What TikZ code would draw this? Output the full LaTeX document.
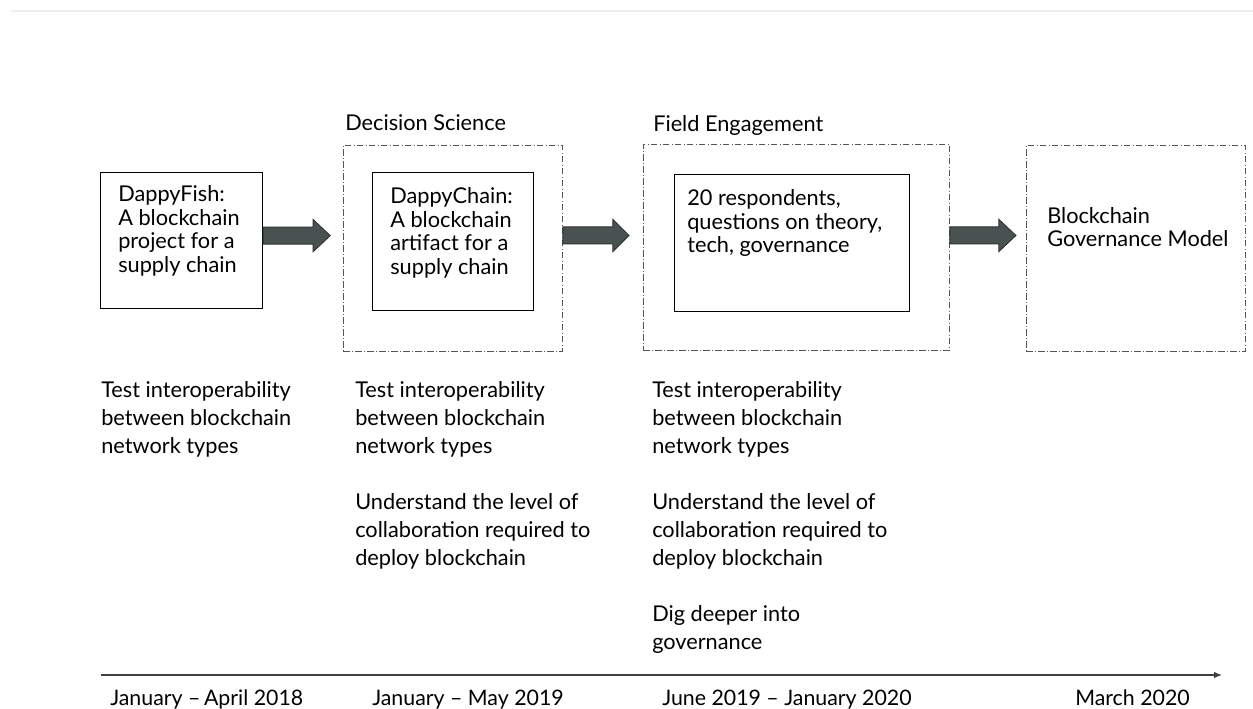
\documentclass[tikz,border=0pt]{standalone}
\usepackage{fontspec}
\setmainfont{Lato}
\usetikzlibrary{arrows.meta,calc}

\definecolor{shaftfill}{HTML}{4A5251}
\definecolor{shaftline}{HTML}{2E3433}
\definecolor{framegray}{HTML}{555555}
\definecolor{rulegray}{HTML}{EEEEEE}
\definecolor{axisgray}{HTML}{404040}

% block arrow: #1 start point (centre of the shaft end), #2 shaft length, #3 head length
\newcommand\blockarrow[3]{%
  \filldraw[blockarrow] #1 ++(0,-8.5) -- ++(#2,0) -- ++(0,-7.5) -- ++(#3,16)
    -- ++(-#3,16) -- ++(0,-7.5) -- ++(-#2,0) -- cycle;}

\begin{document}
\begin{tikzpicture}[x=0.75pt, y=-0.75pt,
  solidbox/.style={draw=black, line width=0.9pt, inner sep=0pt, anchor=north west},
  groupbox/.style={draw=framegray, line width=0.7pt,
    dash pattern=on 5pt off 1.6pt on 0.8pt off 1.6pt, inner sep=0pt, anchor=north west},
  % multi-line nodes sit on the baseline of their last line
  boxtext/.style={anchor=base west, align=left, inner sep=0pt,
    font=\fontsize{16.3}{17.6}\selectfont},
  notetext/.style={anchor=base west, align=left, inner sep=0pt,
    font=\fontsize{16.3}{21}\selectfont},
  datetext/.style={anchor=base west, inner sep=0pt,
    font=\fontsize{16}{20}\selectfont},
  blockarrow/.style={fill=shaftfill, draw=shaftline, line width=0.7pt, line join=miter},
  axis/.style={draw=axisgray, line width=1pt, -{Latex[length=6pt, width=5pt]}},
]
\useasboundingbox (0,0) rectangle (1253,709);

% faint rule across the top
\coordinate (rulestart) at (11,11.5);
\coordinate (ruleend) at (1253,11.5);
\draw[rulegray, line width=1.5pt] (rulestart) -- (ruleend);

% boxes
\node[solidbox, minimum width=162*0.75pt, minimum height=136*0.75pt] (fish) at (100,172) {};
\node[groupbox, minimum width=219*0.75pt, minimum height=206*0.75pt] (dsout) at (343,145) {};
\node[solidbox, minimum width=161*0.75pt, minimum height=138*0.75pt] (dsin) at (372,172) {};
\node[groupbox, minimum width=306*0.75pt, minimum height=206*0.75pt] (feout) at (643,144) {};
\node[solidbox, minimum width=235*0.75pt, minimum height=137*0.75pt] (fein) at (674,174) {};
\node[groupbox, minimum width=219*0.75pt, minimum height=206*0.75pt] (gmout) at (1026,145) {};

% box texts
\node[boxtext] (fishtext) at (118,272.4) {DappyFish:\\A blockchain\\project for a\\supply chain};
\node[boxtext] (chaintext) at (390,274.4) {DappyChain:\\A blockchain\\artifact for a\\supply chain};
\node[boxtext] (fetext) at (687,252.9) {20 respondents,\\questions on theory,\\tech, governance};
\node[boxtext] (gmtext) at (1047,247) {Blockchain\\Governance Model};

% group labels
\node[boxtext] (dslabel) at (345,131) {Decision Science};
\node[boxtext] (felabel) at (653,132) {Field Engagement};

% arrows between stages
\blockarrow{($(fish.east)+(0,-5)$)}{50}{17}
\blockarrow{($(dsout.east)+(0,-13)$)}{50}{16}
\blockarrow{($(feout.east)+(0,-12)$)}{49}{17}

% notes under each stage
\node[notetext] (note1) at (101,453) {Test interoperability\\between blockchain\\network types};
\node[notetext] (note2) at (355,565) {Test interoperability\\between blockchain\\network types\\[21pt]Understand the level of\\collaboration required to\\deploy blockchain};
\node[notetext] (note3) at (652,649) {Test interoperability\\between blockchain\\network types\\[21pt]Understand the level of\\collaboration required to\\deploy blockchain\\[21pt]Dig deeper into\\governance};

% time axis
\coordinate (axisstart) at (101,675);
\coordinate (axisend) at (1222,675);
\draw[axis] (axisstart) -- (axisend);

\node[datetext] (date1) at (110,705) {January –\,April 2018};
\node[datetext] (date2) at (372,705) {January – May 2019};
\node[datetext] (date3) at (662,705) {June 2019 – January 2020};
\node[datetext] (date4) at (1075,705) {March 2020};
\end{tikzpicture}
\end{document}
